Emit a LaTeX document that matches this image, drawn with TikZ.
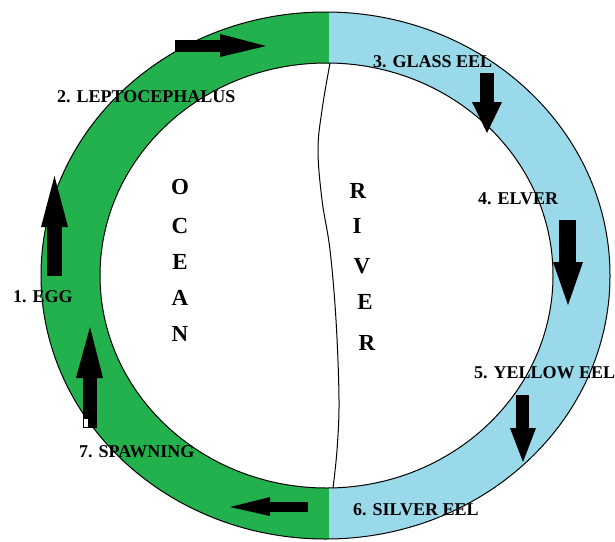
\documentclass[tikz,border=0pt]{standalone}
\usepackage{fontspec}
\setmainfont{Liberation Serif}
\definecolor{ocean}{RGB}{34,177,76}
\definecolor{river}{RGB}{153,217,234}
\begin{document}
\begin{tikzpicture}[x=1pt,y=-1pt,
  lbl/.style={font=\fontsize{18}{18}\selectfont\bfseries, anchor=base west, inner sep=0pt},
  big/.style={font=\fontsize{23}{23}\selectfont\bfseries, anchor=base, inner sep=0pt},
  blk/.style={fill=black, draw=none}]
\useasboundingbox (0,0) rectangle (615,541);
\clip (0,0) rectangle (615,541);
% ring halves
\begin{scope}
  \clip (0,0) rectangle (329,541);
  \fill[ocean, even odd rule] (325.5,275.5) ellipse [x radius=284.5pt, y radius=263.5pt]
     (326.5,275.5) ellipse [x radius=226.5pt, y radius=212.5pt];
\end{scope}
\begin{scope}
  \clip (329,0) rectangle (615,541);
  \fill[river, even odd rule] (325.5,275.5) ellipse [x radius=284.5pt, y radius=263.5pt]
     (326.5,275.5) ellipse [x radius=226.5pt, y radius=212.5pt];
\end{scope}
\draw[line width=1pt] (325.5,275.5) ellipse [x radius=284.5pt, y radius=263.5pt];
\draw[line width=1pt] (326.5,275.5) ellipse [x radius=226.5pt, y radius=212.5pt];
% boundary between ocean and river
\draw[line width=1pt] plot[smooth, tension=0.6] coordinates {(330,63) (322,110) (318,150) (322,200) (330,250) (336,320) (339,400) (337,450) (333,488)};
% arrows
\fill[blk] (175,40) rectangle (220,52);
\fill[blk] (220,34) -- (266,46) -- (220,57) -- cycle;
\fill[blk] (480,73) rectangle (494,102);
\fill[blk] (472,102) -- (502,102) -- (487,133) -- cycle;
\fill[blk] (559,220) rectangle (576,262);
\fill[blk] (553,262) -- (583,262) -- (568,305) -- cycle;
\fill[blk] (516,395) rectangle (529,428);
\fill[blk] (510,428) -- (536,428) -- (523,462) -- cycle;
\fill[blk] (270,502) rectangle (308,512);
\fill[blk] (270,497) -- (270,516) -- (230,507) -- cycle;
\fill[blk] (83,378) rectangle (97,428);
\fill[blk] (76,378) -- (103,378) -- (90,327) -- cycle;
\draw[fill=white, line width=0.8pt] (83.5,418) rectangle (88,427.5);
\fill[blk] (47,227) rectangle (62,276);
\fill[blk] (41,227) -- (68,227) -- (54.5,176) -- cycle;
% stage labels
\node[lbl] (s1) at (13,302) {1. EGG};
\node[lbl] (s2) at (57,102) {2. LEPTOCEPHALUS};
\node[lbl] (s3) at (373,67) {3. GLASS EEL};
\node[lbl] (s4) at (478,204) {4. ELVER};
\node[lbl] (s5) at (474,378) {5. YELLOW EEL};
\node[lbl] (s6) at (353,515) {6. SILVER EEL};
\node[lbl] (s7) at (79,457) {7. SPAWNING};
% OCEAN
\node[big] (o1) at (180,194) {O};
\node[big] (o2) at (180,233) {C};
\node[big] (o3) at (180,269) {E};
\node[big] (o4) at (180,305) {A};
\node[big] (o5) at (180,341) {N};
% RIVER
\node[big] (r1) at (358,198) {R};
\node[big] (r2) at (357,233) {I};
\node[big] (r3) at (362,273) {V};
\node[big] (r4) at (365,309) {E};
\node[big] (r5) at (367,350) {R};
\end{tikzpicture}
\end{document}
